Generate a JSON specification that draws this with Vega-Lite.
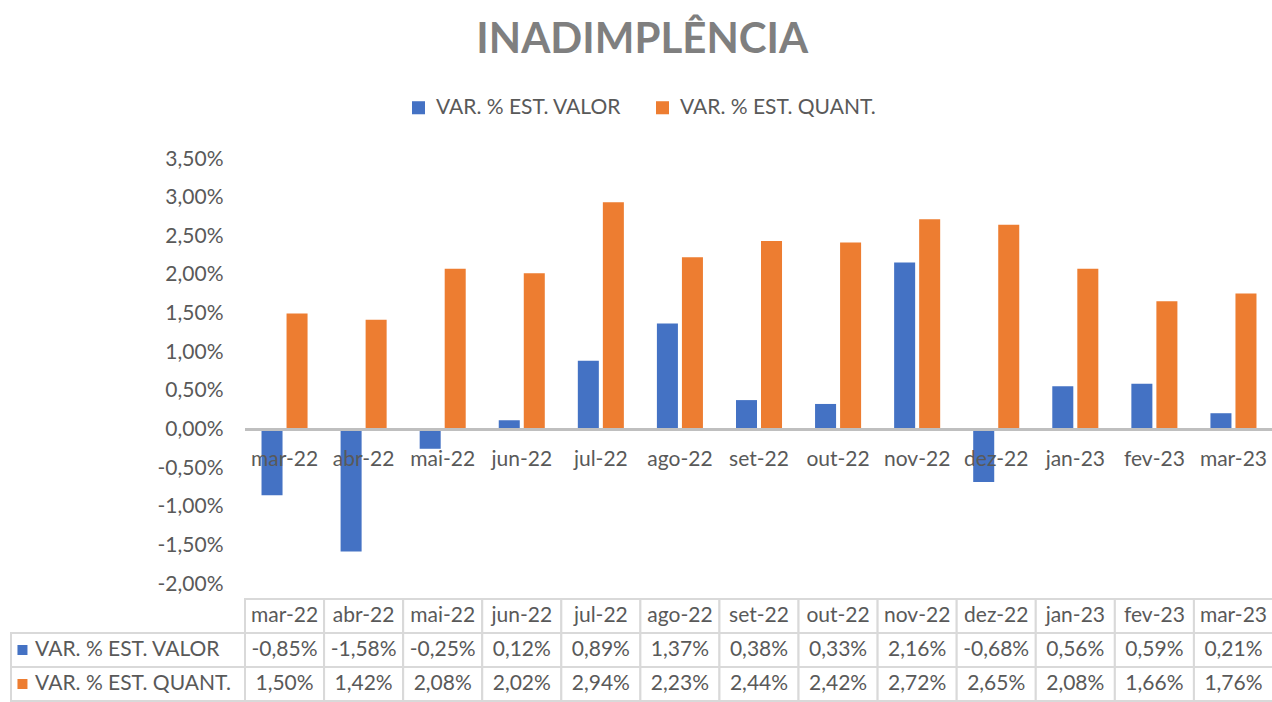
{
  "$schema": "https://vega.github.io/schema/vega-lite/v6.json",
  "background": "white",
  "padding": {"left": 10, "top": 19, "right": 0, "bottom": 0},
  "title": {"text": "INADIMPLÊNCIA", "fontSize": 42, "font": "Lato", "fontWeight": "bold", "color": "#7f7f7f", "anchor": "middle", "offset": 35},
  "datasets": {
    "d": [
      {"mes": "mar-22", "serie": "VAR. % EST. VALOR", "v": -0.0085},
      {"mes": "mar-22", "serie": "VAR. % EST. QUANT.", "v": 0.0150},
      {"mes": "abr-22", "serie": "VAR. % EST. VALOR", "v": -0.0158},
      {"mes": "abr-22", "serie": "VAR. % EST. QUANT.", "v": 0.0142},
      {"mes": "mai-22", "serie": "VAR. % EST. VALOR", "v": -0.0025},
      {"mes": "mai-22", "serie": "VAR. % EST. QUANT.", "v": 0.0208},
      {"mes": "jun-22", "serie": "VAR. % EST. VALOR", "v": 0.0012},
      {"mes": "jun-22", "serie": "VAR. % EST. QUANT.", "v": 0.0202},
      {"mes": "jul-22", "serie": "VAR. % EST. VALOR", "v": 0.0089},
      {"mes": "jul-22", "serie": "VAR. % EST. QUANT.", "v": 0.0294},
      {"mes": "ago-22", "serie": "VAR. % EST. VALOR", "v": 0.0137},
      {"mes": "ago-22", "serie": "VAR. % EST. QUANT.", "v": 0.0223},
      {"mes": "set-22", "serie": "VAR. % EST. VALOR", "v": 0.0038},
      {"mes": "set-22", "serie": "VAR. % EST. QUANT.", "v": 0.0244},
      {"mes": "out-22", "serie": "VAR. % EST. VALOR", "v": 0.0033},
      {"mes": "out-22", "serie": "VAR. % EST. QUANT.", "v": 0.0242},
      {"mes": "nov-22", "serie": "VAR. % EST. VALOR", "v": 0.0216},
      {"mes": "nov-22", "serie": "VAR. % EST. QUANT.", "v": 0.0272},
      {"mes": "dez-22", "serie": "VAR. % EST. VALOR", "v": -0.0068},
      {"mes": "dez-22", "serie": "VAR. % EST. QUANT.", "v": 0.0265},
      {"mes": "jan-23", "serie": "VAR. % EST. VALOR", "v": 0.0056},
      {"mes": "jan-23", "serie": "VAR. % EST. QUANT.", "v": 0.0208},
      {"mes": "fev-23", "serie": "VAR. % EST. VALOR", "v": 0.0059},
      {"mes": "fev-23", "serie": "VAR. % EST. QUANT.", "v": 0.0166},
      {"mes": "mar-23", "serie": "VAR. % EST. VALOR", "v": 0.0021},
      {"mes": "mar-23", "serie": "VAR. % EST. QUANT.", "v": 0.0176}
    ]
  },
  "data": {"name": "d"},
  "columns": 2,
  "spacing": {"row": 15, "column": 0},
  "bounds": "flush",
  "align": "each",
  "concat": [
    {
      "data": {"values": []},
      "width": 234,
      "height": 425,
      "mark": "point",
      "encoding": {}
    },
    {
      "width": 1028,
      "height": 425,
      "layer": [
        {
          "mark": {"type": "bar"},
          "encoding": {
            "x": {"field": "mes", "type": "nominal", "sort": null, "scale": {"paddingInner": 0, "paddingOuter": 0}, "axis": null},
            "xOffset": {"field": "serie", "type": "nominal", "scale": {"domain": ["VAR. % EST. VALOR", "VAR. % EST. QUANT."], "paddingInner": 0.16, "paddingOuter": 0.66}},
            "y": {"field": "v", "type": "quantitative", "scale": {"domain": [-0.02, 0.035], "nice": false, "zero": false},
                  "axis": {"values": [-0.02, -0.015, -0.01, -0.005, 0, 0.005, 0.01, 0.015, 0.02, 0.025, 0.03, 0.035], "tickCount": 12, "format": ".2%", "title": null, "domain": false, "ticks": false, "grid": false, "labelOverlap": false, "labelBound": false, "labelFontSize": 21, "labelColor": "#595959", "labelFont": "Lato", "labelPadding": 22}},
            "color": {"field": "serie", "type": "nominal", "scale": {"domain": ["VAR. % EST. VALOR", "VAR. % EST. QUANT."], "range": ["#4472C4", "#ED7D31"]},
                      "legend": {"orient": "top", "title": null, "labelFontSize": 21, "labelLimit": 0, "labelColor": "#595959", "labelFont": "Lato", "symbolType": "square", "symbolSize": 170, "symbolStrokeWidth": 0, "columnPadding": 30, "labelOffset": 7, "offset": 30}}
          }
        },
        {
          "mark": {"type": "rule", "color": "#bfbfbf", "strokeWidth": 3},
          "encoding": {"y": {"datum": 0, "type": "quantitative"}}
        },
        {
          "transform": [{"filter": "datum.serie === 'VAR. % EST. VALOR'"}],
          "mark": {"type": "text", "dy": 31, "fontSize": 21, "font": "Lato", "color": "#595959"},
          "encoding": {
            "x": {"field": "mes", "type": "nominal", "sort": null},
            "y": {"datum": 0, "type": "quantitative"},
            "text": {"field": "mes"}
          }
        }
      ]
    },
    {
      "width": 234,
      "height": 102,
      "transform": [{"filter": "datum.mes === 'mar-22'"}],
      "layer": [
        {
          "mark": {"type": "rect", "fill": "white", "stroke": "#d9d9d9", "strokeWidth": 2},
          "encoding": {
            "x": {"datum": 0, "type": "quantitative", "scale": {"domain": [0, 1], "nice": false, "zero": false}, "axis": null},
            "x2": {"datum": 1},
            "y": {"field": "serie", "type": "nominal", "scale": {"domain": ["mes", "VAR. % EST. VALOR", "VAR. % EST. QUANT."], "paddingInner": 0, "paddingOuter": 0}, "axis": null}
          }
        },
        {
          "mark": {"type": "point", "shape": "square", "filled": true, "size": 100, "opacity": 1},
          "encoding": {
            "x": {"datum": 0.049, "type": "quantitative"},
            "y": {"field": "serie", "type": "nominal"},
            "color": {"field": "serie", "type": "nominal", "scale": {"domain": ["VAR. % EST. VALOR", "VAR. % EST. QUANT."], "range": ["#4472C4", "#ED7D31"]}, "legend": null}
          }
        },
        {
          "mark": {"type": "text", "align": "left", "fontSize": 21, "font": "Lato", "color": "#595959"},
          "encoding": {
            "x": {"datum": 0.103, "type": "quantitative"},
            "y": {"field": "serie", "type": "nominal"},
            "text": {"field": "serie"}
          }
        }
      ]
    },
    {
      "width": 1028,
      "height": 102,
      "layer": [
        {
          "mark": {"type": "rect", "fill": "white", "stroke": "#d9d9d9", "strokeWidth": 2},
          "encoding": {
            "x": {"field": "mes", "type": "nominal", "sort": null, "scale": {"paddingInner": 0, "paddingOuter": 0}, "axis": null},
            "y": {"field": "serie", "type": "nominal", "scale": {"domain": ["mes", "VAR. % EST. VALOR", "VAR. % EST. QUANT."], "paddingInner": 0, "paddingOuter": 0}, "axis": null}
          }
        },
        {
          "transform": [{"filter": "datum.serie === 'VAR. % EST. VALOR'"}],
          "mark": {"type": "rect", "fill": "white", "stroke": "#d9d9d9", "strokeWidth": 2},
          "encoding": {
            "x": {"field": "mes", "type": "nominal", "sort": null},
            "y": {"datum": "mes", "type": "nominal"}
          }
        },
        {
          "mark": {"type": "text", "fontSize": 21, "font": "Lato", "color": "#595959"},
          "encoding": {
            "x": {"field": "mes", "type": "nominal", "sort": null},
            "y": {"field": "serie", "type": "nominal"},
            "text": {"field": "v", "type": "quantitative", "format": ".2%"}
          }
        },
        {
          "transform": [{"filter": "datum.serie === 'VAR. % EST. VALOR'"}],
          "mark": {"type": "text", "fontSize": 21, "font": "Lato", "color": "#595959"},
          "encoding": {
            "x": {"field": "mes", "type": "nominal", "sort": null},
            "y": {"datum": "mes", "type": "nominal"},
            "text": {"field": "mes"}
          }
        }
      ]
    }
  ],
  "config": {
    "view": {"stroke": null},
    "axis": {"labelOverlap": false},
    "locale": {"number": {"decimal": ",", "thousands": ".", "grouping": [3], "currency": ["R$", ""], "minus": "-"}},
    "legend": {"layout": {"top": {"anchor": "middle"}}}
  }
}
